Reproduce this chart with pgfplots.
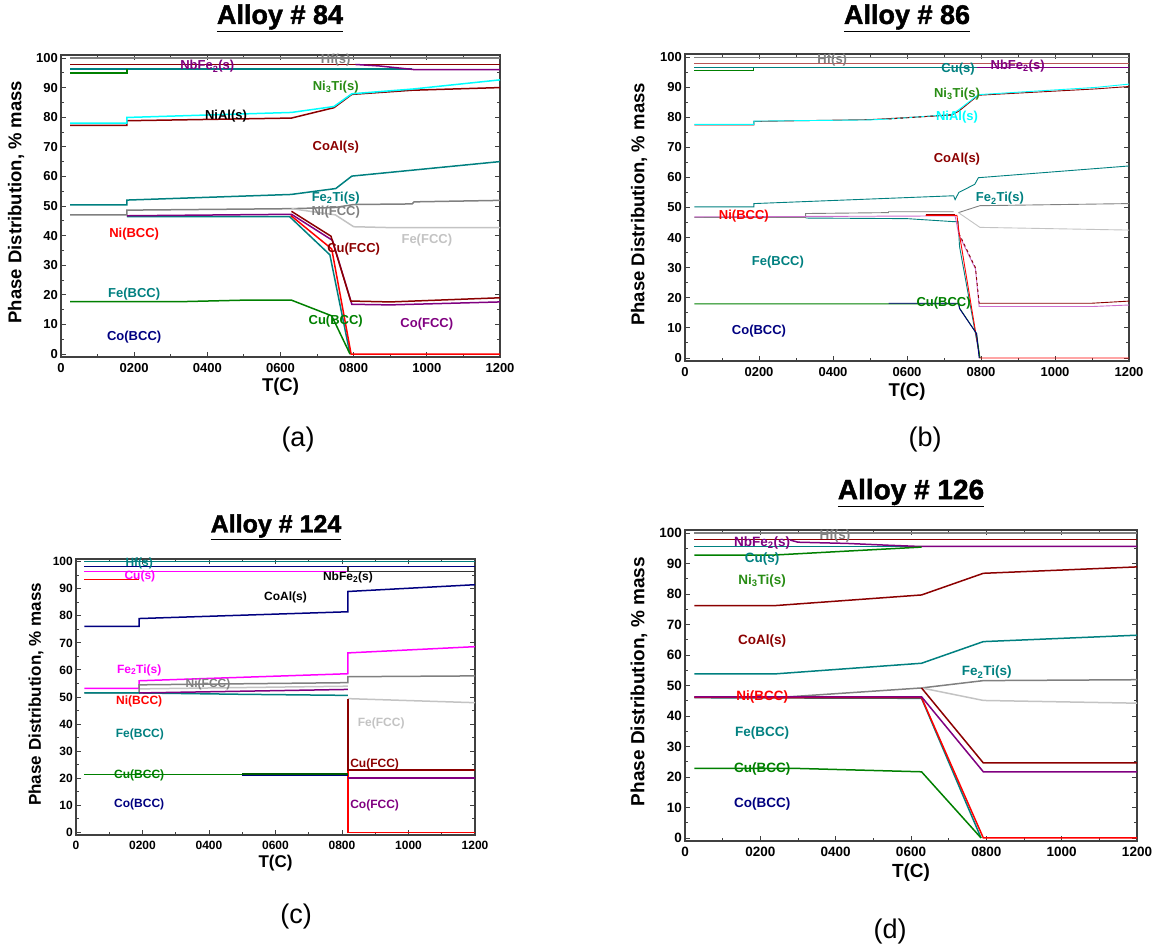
\documentclass[border=0pt]{standalone}
\usepackage{fontspec}
\setmainfont{Liberation Sans}
\newfontfamily\heavy{Liberation Sans Bold}[FakeBold=1.6]
\usepackage{pgfplots}
\pgfplotsset{compat=1.18}
\definecolor{dred}{RGB}{139,0,0}
\definecolor{cteal}{RGB}{0,128,128}
\definecolor{ccyan}{RGB}{0,255,255}
\definecolor{cgreen}{RGB}{0,128,0}
\definecolor{lgreen}{RGB}{40,140,20}
\definecolor{cpurp}{RGB}{128,0,128}
\definecolor{cgray}{RGB}{128,128,128}
\definecolor{clgray}{RGB}{195,195,195}
\definecolor{cred}{RGB}{255,0,0}
\definecolor{cnavy}{RGB}{0,0,128}
\definecolor{cmag}{RGB}{255,0,255}
\definecolor{crose}{RGB}{185,85,85}
\definecolor{corch}{RGB}{205,110,205}
\newcommand\fs[1]{\fontsize{#1bp}{#1bp}\selectfont}
\newcommand\ttl[1]{\heavy\underline{#1}}
\pgfplotsset{
  phase/.style={
    scale only axis, clip=false,
    xmin=0, xmax=1200, ymin=-1, ymax=101,
    xtick={0,200,400,600,800,1000,1200},
    xticklabels={0,0200,0400,0600,0800,1000,1200},
    ytick={0,10,20,30,40,50,60,70,80,90,100},
    yticklabels={0,10,20,30,40,50,60,70,80,90,100},
    minor x tick num=1, minor y tick num=1,
    tick align=inside, major tick length=5bp, minor tick length=3bp,
    axis line style={line width=1.4bp, black!75},
    every tick/.style={black!75, line width=0.9bp},
    xlabel={T(C)}, ylabel={Phase Distribution, \% mass},
    xticklabel style={yshift=-6bp},
    yticklabel style={xshift=-3bp},
  },
  lw/.style={line width=1.5bp},
  tw/.style={line width=0.9bp},
}
\begin{document}
\begin{tikzpicture}
\useasboundingbox (0bp,0bp) rectangle (1160bp,-948bp);
% ---------------- (a) Alloy 84 ----------------
\begin{axis}[phase, at={(61bp,-55bp)}, anchor=north west, width=439bp, height=302bp,
  ticklabel style={font=\fs{13}\bfseries},
  label style={font=\fs{18.5}\bfseries},
  ylabel style={at={(axis description cs:-0.1025,0.513)}, anchor=center},
  xlabel style={at={(axis description cs:0.5,-0.1)}, anchor=center},
  nodes={font=\fs{13}\bfseries, inner sep=0pt},
  every axis plot/.append style={lw}]
\addplot[cgray] coordinates {(25,100) (1200,100)};
\addplot[dred] coordinates {(25,97.8) (1200,97.8)};
\addplot[cteal] coordinates {(25,96.3) (960,96.3)};
\addplot[cpurp] coordinates {(805,97.8) (870,97.3) (963,96.1) (1200,96.1)};
\addplot[cgreen] coordinates {(25,94.9) (180,94.9) (180,96.3)};
\addplot[dred] coordinates {(25,77.2) (180,77.2) (180,78.8) (630,79.7) (746,83.2) (795,87.7) (960,89.1) (1200,90.0)};
\addplot[ccyan] coordinates {(25,78.0) (180,78.0) (180,79.9) (630,81.6) (746,83.6) (795,87.9) (961,89.5) (1200,92.6)};
\addplot[cteal] coordinates {(25,50.4) (180,50.4) (180,52.0) (629,53.9) (751,55.9) (795,60.1) (1200,65.0)};
\addplot[cgray] coordinates {(25,47.0) (180,47.0) (180,48.6) (630,49.1) (750,49.5) (800,50.5) (960,50.7) (965,51.4) (1200,51.9)};
\addplot[clgray] coordinates {(630,49.1) (750,47.0) (800,43.0) (900,42.7) (1200,42.7)};
\addplot[cteal] coordinates {(180,46.4) (625,46.4) (735,33.5) (790,0)};
\addplot[cred] coordinates {(628,46.8) (740,35.5) (793,0) (1200,0)};
\addplot[cpurp] coordinates {(180,46.7) (630,47.2) (742,38.4) (795,16.8) (900,16.6) (1200,17.6)};
\addplot[dred] coordinates {(630,48.2) (738,39.8) (792,17.9) (900,17.6) (1200,19.0)};
\addplot[cgreen] coordinates {(25,17.7) (330,17.7) (500,18.2) (630,18.2) (740,12.9) (790,0)};
\node[text=cpurp] at (400,97.1) {NbFe\textsubscript{2}(s)};
\node[text=cgray] at (751,99.1) {Hf(s)};
\node[text=lgreen] at (751,90.2) {Ni\textsubscript{3}Ti(s)};
\node[text=black] at (451,80.2) {NiAl(s)};
\node[text=dred] at (751,69.9) {CoAl(s)};
\node[text=cteal] at (751,52.8) {Fe\textsubscript{2}Ti(s)};
\node[text=cgray] at (751,47.8) {Ni(FCC)};
\node[text=cred] at (200,40.4) {Ni(BCC)};
\node[text=clgray] at (1000,38.4) {Fe(FCC)};
\node[text=dred] at (800,35.4) {Cu(FCC)};
\node[text=cteal] at (200,20.3) {Fe(BCC)};
\node[text=cgreen] at (751,11.2) {Cu(BCC)};
\node[text=cpurp] at (1000,10.1) {Co(FCC)};
\node[text=cnavy] at (200,5.6) {Co(BCC)};
\end{axis}
% ---------------- (b) Alloy 86 ----------------
\begin{axis}[phase, at={(685bp,-54bp)}, anchor=north west, width=444bp, height=307bp,
  ticklabel style={font=\fs{13}\bfseries},
  label style={font=\fs{18.5}\bfseries},
  ylabel style={at={(axis description cs:-0.1036,0.51)}, anchor=center},
  xlabel style={at={(axis description cs:0.5,-0.099)}, anchor=center},
  nodes={font=\fs{13}\bfseries, inner sep=0pt},
  every axis plot/.append style={tw}]
\addplot[cgray] coordinates {(25,100) (1200,100)};
\addplot[crose] coordinates {(25,98) (1200,98)};
\addplot[cteal] coordinates {(25,96.5) (800,96.5)};
\addplot[cpurp] coordinates {(790,96.5) (1200,96.5)};
\addplot[cgreen] coordinates {(25,95.5) (186,95.5) (186,96.5)};
\addplot[dred] coordinates {(25,77.4) (186,77.4) (186,78.6) (500,79.2) (720,80.7) (740,82.0) (793,87.3) (1110,89.4) (1200,90.2)};
\addplot[ccyan] coordinates {(25,77.6) (186,77.6) (186,78.7) (500,79.1) (550,79.4) (721,80.9) (740,82.5) (793,87.5) (1110,89.9) (1200,91.0)};
\addplot[dred, dashed] coordinates {(550,79.4) (720,80.8)};
\addplot[cteal] coordinates {(25,50.2) (186,50.2) (186,51.3) (726,53.9) (730,52.6) (740,55.0) (783,57.7) (793,59.9) (1200,63.8)};
\addplot[cgray] coordinates {(25,46.7) (326,46.7) (326,48.0) (550,48.3) (550,48.6) (726,48.6)};
\addplot[cgray] coordinates {(739,48.3) (797,50.6) (1200,51.3)};
\addplot[clgray] coordinates {(739,48.3) (797,43.4) (1200,42.5)};
\addplot[cteal] coordinates {(326,46.5) (600,46.3) (726,45.3) (738,45.3) (742,37.0) (797,0)};
\addplot[corch] coordinates {(25,46.9) (730,47.2) (740,41.0) (785,29.6) (795,17.1) (1100,17.1) (1200,17.6)};
\addplot[dred] coordinates {(650,47.7) (730,47.7)};
\addplot[dred, dashed] coordinates {(740,41.5) (785,30.0) (795,18.2)};
\addplot[dred] coordinates {(795,18.2) (1100,18.2) (1200,18.9)};
\addplot[cred] coordinates {(650,47.4) (735,47.4) (740,42.3) (797,0) (1200,0)};
\addplot[cgreen] coordinates {(25,18.0) (740,18.0) (742,16.6) (788,8.1) (797,0)};
\addplot[cnavy] coordinates {(550,18.2) (739,18.2) (742,16.4) (788,8.1) (795,0)};
\node[text=cgray] at (398,99.1) {Hf(s)};
\node[text=cteal] at (738,96.1) {Cu(s)};
\node[text=cpurp] at (899,96.9) {NbFe\textsubscript{2}(s)};
\node[text=lgreen] at (735,87.8) {Ni\textsubscript{3}Ti(s)};
\node[text=ccyan] at (735,80.0) {NiAl(s)};
\node[text=dred] at (735,66.1) {CoAl(s)};
\node[text=cteal] at (851,53.0) {Fe\textsubscript{2}Ti(s)};
\node[text=cred] at (159,47.0) {Ni(BCC)};
\node[text=cteal] at (251,32.0) {Fe(BCC)};
\node[text=cgreen] at (699,18.2) {Cu(BCC)};
\node[text=cnavy] at (200,8.9) {Co(BCC)};
\end{axis}
% ---------------- (c) Alloy 124 ----------------
\begin{axis}[phase, at={(76bp,-559bp)}, anchor=north west, width=399bp, height=276bp,
  ticklabel style={font=\fs{12}\bfseries},
  label style={font=\fs{17}\bfseries},
  ylabel style={at={(axis description cs:-0.1,0.51)}, anchor=center},
  xlabel style={at={(axis description cs:0.5,-0.1)}, anchor=center},
  nodes={font=\fs{12}\bfseries, inner sep=0pt},
  every axis plot/.append style={lw}]
\addplot[cteal] coordinates {(25,100) (1200,100)};
\addplot[cnavy] coordinates {(25,98.3) (1200,98.3)};
\addplot[cmag] coordinates {(25,96.3) (818,96.3)};
\addplot[black!80] coordinates {(818,98.3) (818,96.3) (1200,96.3)};
\addplot[cred] coordinates {(25,93.5) (190,93.5)};
\addplot[cnavy] coordinates {(25,76.1) (190,76.1) (190,79.0) (818,81.5) (818,89.0) (1200,91.5)};
\addplot[cmag] coordinates {(25,53.2) (190,53.2) (190,56.0) (818,58.6) (818,66.3) (1200,68.6)};
\addplot[clgray] coordinates {(190,53.0) (818,54.0)};
\addplot[cgray] coordinates {(25,51.5) (190,51.5) (190,54.5) (818,55.3) (818,57.5) (1200,57.8)};
\addplot[cteal] coordinates {(25,51.5) (190,51.5) (500,51.0) (818,50.6)};
\addplot[cpurp] coordinates {(190,51.5) (818,52.8)};
\addplot[clgray] coordinates {(818,49.4) (1200,47.9)};
\addplot[cred] coordinates {(818,23.0) (818,0) (1200,0)};
\addplot[dred] coordinates {(818,49.2) (818,23.0) (1200,23.0)};
\addplot[cpurp] coordinates {(818,20.1) (1200,20.1)};
\addplot[cnavy] coordinates {(500,21.1) (818,21.1)};
\addplot[cgreen] coordinates {(25,21.4) (818,21.4)};
\addplot[cgreen!70!black, line width=2bp] coordinates {(500,21.5) (818,21.5)};
\node[text=cteal] at (190,99.2) {Hf(s)};
\node[text=cmag] at (192,94.6) {Cu(s)};
\node[text=black] at (818,94.1) {NbFe\textsubscript{2}(s)};
\node[text=black] at (630,86.7) {CoAl(s)};
\node[text=cmag] at (190,60.0) {Fe\textsubscript{2}Ti(s)};
\node[text=cgray] at (397,54.5) {Ni(FCC)};
\node[text=cred] at (190,48.2) {Ni(BCC)};
\node[text=cteal] at (192,36.2) {Fe(BCC)};
\node[text=clgray] at (918,40.2) {Fe(FCC)};
\node[text=dred] at (898,25.1) {Cu(FCC)};
\node[text=cgreen] at (190,21.2) {Cu(BCC)};
\node[text=cnavy] at (190,10.4) {Co(BCC)};
\node[text=cpurp] at (898,9.9) {Co(FCC)};
\end{axis}
% ---------------- (d) Alloy 126 ----------------
\begin{axis}[phase, at={(685bp,-530bp)}, anchor=north west, width=452bp, height=311bp,
  ticklabel style={font=\fs{13.5}\bfseries},
  label style={font=\fs{19}\bfseries},
  ylabel style={at={(axis description cs:-0.102,0.513)}, anchor=center},
  xlabel style={at={(axis description cs:0.5,-0.1)}, anchor=center},
  nodes={font=\fs{13.5}\bfseries, inner sep=0pt},
  every axis plot/.append style={lw}]
\addplot[cgray] coordinates {(25,100) (1200,100)};
\addplot[dred] coordinates {(25,97.9) (1200,97.9)};
\addplot[cteal] coordinates {(25,95.6) (630,95.6)};
\addplot[cpurp] coordinates {(279,97.7) (300,97.0) (430,96.6) (540,96.0) (624,95.6) (1200,95.6)};
\addplot[cgreen] coordinates {(25,92.8) (238,92.8) (628,95.4)};
\addplot[dred] coordinates {(25,76.2) (238,76.2) (628,79.7) (792,86.8) (1200,88.9)};
\addplot[cteal] coordinates {(25,53.8) (238,53.8) (628,57.3) (792,64.4) (1200,66.5)};
\addplot[cgray] coordinates {(25,46.3) (276,46.3) (628,49.2) (792,51.6) (1200,51.9)};
\addplot[clgray] coordinates {(628,49.2) (792,45.1) (1200,44.2)};
\addplot[cteal] coordinates {(25,46.0) (628,45.8) (786,0)};
\addplot[cred] coordinates {(25,46.1) (628,46.0) (792,0) (1200,0)};
\addplot[cpurp] coordinates {(25,46.3) (628,46.3) (792,21.7) (1200,21.7)};
\addplot[dred] coordinates {(628,49.2) (792,24.6) (1200,24.6)};
\addplot[cgreen] coordinates {(25,22.8) (300,22.8) (628,21.7) (786,0)};
\node[text=cgray] at (398,99.1) {Hf(s)};
\node[text=cpurp] at (205,96.8) {NbFe\textsubscript{2}(s)};
\node[text=cteal] at (205,91.4) {Cu(s)};
\node[text=lgreen] at (205,84.3) {Ni\textsubscript{3}Ti(s)};
\node[text=dred] at (205,64.7) {CoAl(s)};
\node[text=cteal] at (801,54.3) {Fe\textsubscript{2}Ti(s)};
\node[text=cred] at (205,46.2) {Ni(BCC)};
\node[text=cteal] at (205,34.3) {Fe(BCC)};
\node[text=cgreen] at (205,22.5) {Cu(BCC)};
\node[text=cnavy] at (205,11.1) {Co(BCC)};
\end{axis}
% titles and panel letters
\node[font=\fs{27}] at (280bp,-18bp) {\ttl{Alloy \# 84}};
\node[font=\fs{27}] at (907bp,-18bp) {\ttl{Alloy \# 86}};
\node[font=\fs{25}] at (276bp,-527bp) {\ttl{Alloy \# 124}};
\node[font=\fs{28}] at (911bp,-493bp) {\ttl{Alloy \# 126}};
\node[font=\fs{27}] at (298bp,-440bp) {(a)};
\node[font=\fs{27}] at (925bp,-440bp) {(b)};
\node[font=\fs{27}] at (296bp,-917bp) {(c)};
\node[font=\fs{27}] at (890bp,-932bp) {(d)};
\end{tikzpicture}
\end{document}
